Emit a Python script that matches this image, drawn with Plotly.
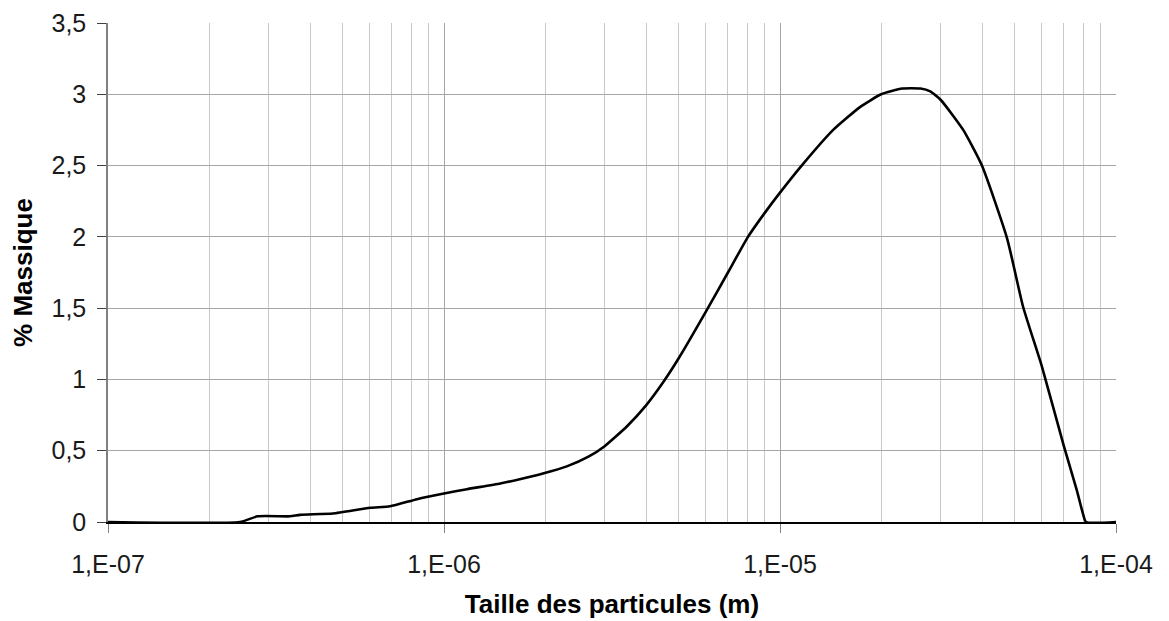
import plotly.graph_objects as go

# Particle size distribution (mass %)
particle_size_m = [
    1.0e-7, 2.47e-7, 2.79e-7, 3.48e-7, 3.73e-7, 4.67e-7, 6.03e-7, 6.91e-7,
    8.31e-7, 1.0e-6, 1.17e-6, 1.47e-6, 1.68e-6, 1.97e-6, 2.32e-6, 2.7e-6,
    3.0e-6, 3.5e-6, 4.0e-6, 4.49e-6, 5.0e-6, 6.0e-6, 7.0e-6, 8.03e-6, 9.02e-6,
    1.0e-5, 1.17e-5, 1.44e-5, 1.73e-5, 2.0e-5, 2.31e-5, 2.62e-5, 2.8e-5,
    3.01e-5, 3.51e-5, 3.99e-5, 4.74e-5, 5.29e-5, 6.02e-5, 7.0e-5, 7.65e-5,
    7.97e-5, 8.14e-5, 1.0e-4,
]
mass_percent = [
    0.0, 0.0, 0.04, 0.04, 0.05, 0.06, 0.10, 0.11,
    0.16, 0.20, 0.23, 0.27, 0.30, 0.34, 0.39, 0.46,
    0.53, 0.67, 0.82, 0.98, 1.15, 1.47, 1.75, 2.0, 2.17,
    2.31, 2.51, 2.75, 2.91, 3.0, 3.04, 3.04, 3.02,
    2.96, 2.75, 2.50, 1.99, 1.51, 1.09, 0.53, 0.22,
    0.06, 0.0, 0.0,
]

major_ticks = [1e-7, 1e-6, 1e-5, 1e-4]
major_labels = ["1,E-07", "1,E-06", "1,E-05", "1,E-04"]
minor_ticks = [m * d for d in (1e-7, 1e-6, 1e-5) for m in range(2, 10)]

font_family = "Liberation Sans, Arial, sans-serif"
grid_color = "#a6a6a6"
text_color = "#1a1a1a"

fig = go.Figure()
fig.add_trace(go.Scatter(
    x=particle_size_m, y=mass_percent, mode="lines",
    line=dict(color="black", width=2.6, shape="spline", smoothing=0.5),
    showlegend=False,
))

fig.update_layout(
    width=1169, height=621,
    margin=dict(l=108, r=53, t=23, b=99),
    paper_bgcolor="white", plot_bgcolor="white",
    separators=", ",
    font=dict(family=font_family, size=25, color=text_color),
)

fig.update_xaxes(
    type="log", range=[-7, -4], automargin=False,
    tickvals=major_ticks, ticktext=major_labels,
    tickfont=dict(size=25, color=text_color), ticklabelstandoff=10,
    ticks="outside", ticklen=9, tickcolor="#808080",
    showgrid=True, gridcolor=grid_color, gridwidth=1,
    minor=dict(tickvals=minor_ticks, showgrid=True, gridcolor="#c8c8c8", gridwidth=1, ticks=""),
    showline=True, linecolor="black", linewidth=1.5, mirror=False,
    zeroline=False,
    title=dict(text="<b>Taille des particules (m)</b>", font=dict(size=26, color="black"), standoff=18),
)

fig.update_yaxes(
    range=[0, 3.5], dtick=0.5, tick0=0, automargin=False,
    tickfont=dict(size=25, color=text_color), ticklabelstandoff=6,
    ticks="outside", ticklen=9, tickcolor="#404040",
    showgrid=True, gridcolor=grid_color, gridwidth=1,
    showline=True, linecolor="#808080", linewidth=1.5,
    zeroline=False,
    title=dict(text="<b>% Massique</b>", font=dict(size=26, color="black"), standoff=11),
)

fig.write_html("out.html")
